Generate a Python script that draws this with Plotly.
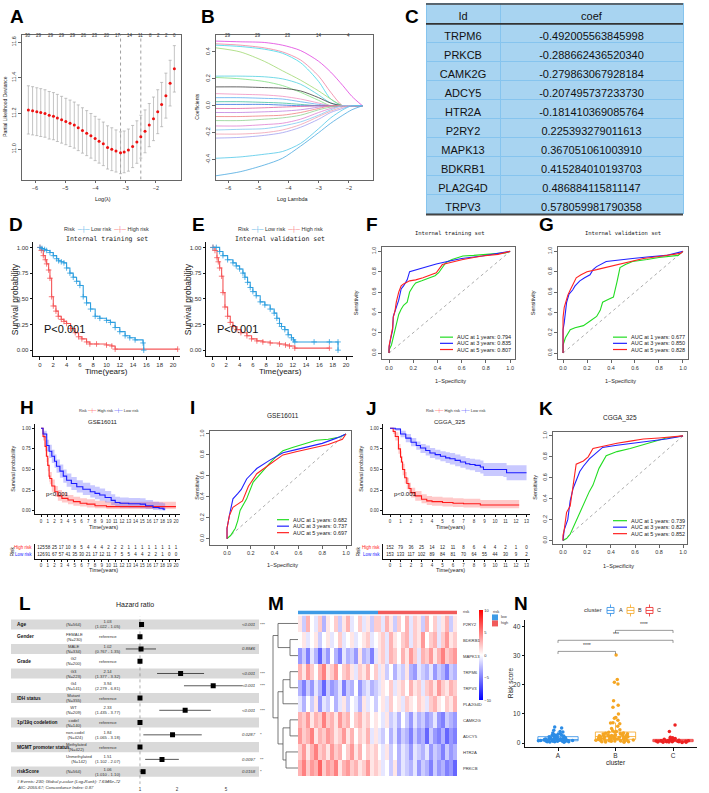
import plotly.graph_objects as go

W, H = 709, 793
SANS = "Liberation Sans, Arial, sans-serif"
MONO = "DejaVu Sans Mono, monospace"

# ================= DATA =================
# A: LASSO cross-validation
A_loglam = [-6.22,-6.08,-5.94,-5.81,-5.67,-5.53,-5.39,-5.26,-5.12,-4.98,-4.84,-4.70,-4.57,-4.43,-4.29,-4.15,-4.01,-3.88,-3.74,-3.60,
            -3.46,-3.32,-3.17,-3.05,-2.91,-2.77,-2.63,-2.50,-2.36,-2.22,-2.08,-1.94,-1.81,-1.67,-1.53,-1.39]
A_dev = [11.22,11.215,11.21,11.205,11.20,11.19,11.185,11.175,11.165,11.155,11.145,11.135,11.12,11.105,11.09,11.075,11.06,11.045,11.03,11.01,
         11.00,10.99,10.98,10.985,10.995,11.015,11.04,11.07,11.10,11.135,11.17,11.21,11.25,11.30,11.37,11.45]
A_sd = [0.135,0.135,0.134,0.134,0.133,0.133,0.132,0.132,0.131,0.130,0.130,0.129,0.128,0.127,0.126,0.125,0.124,0.123,0.122,0.121,
        0.120,0.118,0.117,0.117,0.118,0.118,0.119,0.120,0.120,0.121,0.122,0.123,0.124,0.126,0.128,0.130]
A_top_pos = [-6.22,-5.86,-5.48,-5.12,-4.75,-4.38,-4.01,-3.63,-3.24,-2.85,-2.50,-2.19,-1.92,-1.64,-1.39]
A_top_lab = ["30","29","29","29","29","26","23","20","17","14","11","8","2","2","0"]
A_lam_lines = [-3.17, -2.50]

# B: coefficient paths
B_grid = [-6.4,-5.6,-4.8,-4.2,-3.6,-3.0,-2.6,-2.2,-1.9,-1.55]
B_colors = ["#e040e0","#f080a0","#40d8e8","#a0d870","#50d0e0","#80e080","#404040","#f090c0","#60b0f0","#40c0a0",
            "#3070e0","#e060a0","#c080e0","#f08080","#90d090","#e080d0","#80c8f0","#f0a0b0","#a0a0f0","#50c8e8","#4aa8e0"]
B_paths = [
    [0.48,0.475,0.47,0.45,0.41,0.33,0.25,0.15,0.07,0.0],
    [0.46,0.45,0.43,0.40,0.34,0.22,0.10,0.0,0.0,0.0],
    [0.45,0.44,0.42,0.39,0.32,0.18,0.05,0.0,0.0,0.0],
    [0.43,0.40,0.33,0.26,0.19,0.11,0.05,0.0,0.0,0.0],
    [0.22,0.22,0.215,0.20,0.16,0.08,0.02,0.0,0.0,0.0],
    [0.21,0.20,0.18,0.15,0.10,0.04,0.0,0.0,0.0,0.0],
    [0.14,0.14,0.135,0.13,0.11,0.06,0.02,0.0,0.0,0.0],
    [0.09,0.085,0.08,0.07,0.05,0.02,0.0,0.0,0.0,0.0],
    [0.06,0.06,0.055,0.05,0.03,0.01,0.0,0.0,0.0,0.0],
    [0.03,0.03,0.025,0.02,0.01,0.0,0.0,0.0,0.0,0.0],
    [0.01,0.01,0.01,0.005,0.0,0.0,0.0,0.0,0.0,0.0],
    [-0.02,-0.02,-0.015,-0.01,-0.005,0.0,0.0,0.0,0.0,0.0],
    [-0.05,-0.05,-0.045,-0.04,-0.03,-0.01,0.0,0.0,0.0,0.0],
    [-0.08,-0.08,-0.075,-0.07,-0.05,-0.02,0.0,0.0,0.0,0.0],
    [-0.11,-0.11,-0.10,-0.09,-0.07,-0.03,-0.01,0.0,0.0,0.0],
    [-0.15,-0.15,-0.14,-0.13,-0.10,-0.05,-0.02,0.0,0.0,0.0],
    [-0.18,-0.175,-0.17,-0.15,-0.12,-0.07,-0.03,0.0,0.0,0.0],
    [-0.21,-0.21,-0.20,-0.18,-0.14,-0.08,-0.04,-0.01,0.0,0.0],
    [-0.24,-0.235,-0.22,-0.20,-0.16,-0.10,-0.05,-0.02,0.0,0.0],
    [-0.39,-0.38,-0.36,-0.34,-0.28,-0.17,-0.09,-0.03,0.0,0.0],
    [-0.52,-0.49,-0.44,-0.39,-0.30,-0.20,-0.13,-0.07,-0.03,0.0],
]
B_top_pos = [-6, -5, -4, -3, -2]
B_top_lab = ["29", "29", "23", "14", "4"]

# C: coefficient table
C_ids = ["TRPM6","PRKCB","CAMK2G","ADCY5","HTR2A","P2RY2","MAPK13","BDKRB1","PLA2G4D","TRPV3"]
C_coef = [-0.492005563845998,-0.288662436520340,-0.279863067928184,-0.207495737233730,-0.181410369085764,
          0.225393279011613,0.367051061003910,0.415284010193703,0.486884115811147,0.578059981790358]

# D / E: KM internal sets
D_low_t = [0,0.3,0.7,1.0,1.5,2.0,2.5,2.8,3.2,3.6,4.0,4.5,5.0,5.5,6.0,6.5,7.0,7.6,8.3,9.0,10.0,10.6,11.3,12.0,12.8,13.5,14.3,15.5,15.6]
D_low_s = [1,0.99,0.98,0.97,0.95,0.92,0.89,0.87,0.86,0.85,0.80,0.75,0.71,0.67,0.63,0.52,0.46,0.40,0.33,0.31,0.29,0.27,0.22,0.18,0.14,0.12,0.10,0.07,0.0]
D_high_t = [0,0.2,0.5,0.8,1.0,1.3,1.5,1.75,2.0,2.4,2.75,3.2,3.6,4.0,4.6,5.3,5.8,6.3,7.0,7.5,8.5,10.0,10.8,11.3,20.7]
D_high_s = [1,0.97,0.92,0.88,0.84,0.78,0.70,0.52,0.43,0.38,0.33,0.30,0.28,0.26,0.21,0.17,0.13,0.11,0.08,0.06,0.06,0.05,0.04,0.01,0.01]
E_low_t = [0,0.5,1.0,1.5,2.2,3.0,3.5,4.0,4.5,4.8,5.2,5.6,6.0,6.5,7.1,7.8,8.6,9.2,9.6,10.0,10.3,10.8,11.3,11.8,12.1,12.3,15.2,17.5,18.8,18.8]
E_low_s = [1,1,0.96,0.92,0.88,0.85,0.82,0.79,0.75,0.71,0.66,0.61,0.57,0.53,0.47,0.44,0.40,0.36,0.31,0.26,0.23,0.20,0.15,0.12,0.10,0.08,0.08,0.08,0.08,0.0]
E_high_t = [0,0.3,0.6,0.8,1.0,1.3,1.5,1.8,2.2,2.6,3.0,3.6,4.2,5.1,5.8,6.6,7.5,8.6,10.0,10.9,11.5,12.3,17.5]
E_high_s = [1,0.97,0.90,0.86,0.80,0.72,0.56,0.42,0.33,0.27,0.23,0.20,0.17,0.14,0.11,0.09,0.08,0.07,0.06,0.05,0.04,0.02,0.02]

# ROC data
AUC_years = [1, 3, 5]
F_auc = [0.794, 0.835, 0.807]
F_g_fpr = [0,0.0,0.02,0.04,0.05,0.07,0.08,0.10,0.12,0.15,0.17,0.20,0.22,0.27,0.33,0.38,0.41,0.44,0.47,0.52,0.61,0.70,0.80,0.90,0.96,1.0]
F_g_tpr = [0,0.03,0.08,0.18,0.23,0.33,0.38,0.43,0.47,0.50,0.60,0.66,0.69,0.71,0.74,0.76,0.79,0.84,0.89,0.92,0.955,0.96,0.97,0.98,0.985,1.0]
F_b_fpr = [0,0,0.01,0.02,0.03,0.035,0.05,0.06,0.08,0.09,0.10,0.12,0.15,0.17,0.20,0.23,0.30,0.39,0.50,0.60,0.77,0.90,1.0]
F_b_tpr = [0,0.05,0.12,0.20,0.23,0.36,0.43,0.45,0.52,0.58,0.63,0.66,0.72,0.80,0.81,0.82,0.85,0.875,0.905,0.93,0.955,0.98,1.0]
F_r_fpr = [0,0,0.01,0.02,0.03,0.035,0.05,0.06,0.08,0.10,0.12,0.17,0.22,0.28,0.33,0.39,0.44,0.50,0.61,0.70,0.77,0.90,1.0]
F_r_tpr = [0,0.07,0.13,0.20,0.25,0.35,0.42,0.50,0.60,0.66,0.68,0.71,0.72,0.74,0.76,0.79,0.87,0.89,0.92,0.94,0.955,0.97,1.0]
G_auc = [0.677, 0.850, 0.828]
G_g_fpr = [0,0,0.02,0.06,0.10,0.17,0.22,0.28,0.31,0.33,0.38,0.42,0.45,0.475,0.52,0.58,0.70,0.80,0.96,1.0]
G_g_tpr = [0,0.08,0.15,0.23,0.25,0.27,0.31,0.36,0.42,0.50,0.53,0.55,0.70,0.84,0.87,0.90,0.92,0.94,0.96,1.0]
G_b_fpr = [0,0,0.01,0.02,0.03,0.05,0.08,0.10,0.14,0.18,0.225,0.25,0.28,0.36,0.45,0.58,0.70,0.86,1.0]
G_b_tpr = [0,0.23,0.30,0.43,0.50,0.58,0.62,0.66,0.71,0.74,0.77,0.82,0.85,0.90,0.91,0.93,0.945,0.96,1.0]
G_r_fpr = [0,0,0.01,0.02,0.04,0.06,0.08,0.11,0.15,0.20,0.28,0.35,0.45,0.55,0.67,0.80,0.90,0.98,1.0]
G_r_tpr = [0,0.35,0.45,0.50,0.57,0.62,0.67,0.74,0.77,0.80,0.82,0.84,0.87,0.90,0.93,0.95,0.965,0.98,1.0]
I_auc = [0.682, 0.737, 0.697]
I_g_fpr = [0,0.03,0.07,0.09,0.11,0.165,0.22,0.28,0.35,0.41,0.47,0.55,0.64,0.75,0.85,0.95,1.0]
I_g_tpr = [0,0.03,0.10,0.17,0.27,0.38,0.54,0.62,0.71,0.78,0.84,0.87,0.90,0.94,0.95,0.97,1.0]
I_b_fpr = [0,0.0,0.025,0.05,0.09,0.12,0.165,0.25,0.36,0.47,0.58,0.70,0.80,0.92,1.0]
I_b_tpr = [0,0.10,0.25,0.38,0.43,0.47,0.57,0.67,0.75,0.82,0.85,0.88,0.91,0.96,1.0]
I_r_fpr = [0,0.0,0.02,0.05,0.09,0.13,0.18,0.25,0.36,0.47,0.58,0.70,0.85,0.97,1.0]
I_r_tpr = [0,0.10,0.22,0.30,0.33,0.36,0.50,0.62,0.71,0.80,0.83,0.86,0.90,0.95,1.0]
K_auc = [0.739, 0.827, 0.852]
K_g_fpr = [0,0.03,0.06,0.11,0.17,0.22,0.25,0.27,0.30,0.36,0.45,0.56,0.65,0.72,0.80,0.86,0.93,1.0]
K_g_tpr = [0,0.02,0.06,0.19,0.35,0.47,0.53,0.60,0.69,0.81,0.85,0.88,0.91,0.94,0.96,0.98,0.99,1.0]
K_b_fpr = [0,0.01,0.04,0.06,0.085,0.11,0.14,0.17,0.22,0.28,0.33,0.45,0.58,0.72,0.86,1.0]
K_b_tpr = [0,0.10,0.20,0.38,0.50,0.58,0.66,0.71,0.78,0.84,0.89,0.91,0.93,0.95,0.97,1.0]
K_r_fpr = [0,0.0,0.01,0.03,0.06,0.085,0.11,0.17,0.21,0.25,0.33,0.45,0.56,0.67,0.80,0.90,1.0]
K_r_tpr = [0,0.05,0.10,0.27,0.33,0.52,0.73,0.76,0.80,0.88,0.90,0.93,0.95,0.97,0.98,0.99,1.0]

# H: GSE16011 KM
H_high_t = [0,0.3,0.6,0.8,1.0,1.2,1.3,1.6,2.05,2.5,3.1,4.0,4.8,5.8,6.8,8.0,9.7,20]
H_high_s = [1,0.90,0.78,0.66,0.55,0.42,0.39,0.30,0.23,0.18,0.15,0.13,0.11,0.09,0.08,0.06,0.05,0.05]
H_high_lo = [1,0.85,0.72,0.59,0.48,0.35,0.32,0.23,0.17,0.12,0.10,0.08,0.06,0.05,0.04,0.03,0.02,0.02]
H_high_hi = [1,0.95,0.85,0.74,0.64,0.50,0.47,0.38,0.30,0.25,0.22,0.19,0.17,0.15,0.14,0.12,0.11,0.11]
H_low_t = [0,0.3,0.85,1.2,1.6,2.0,2.3,2.8,3.3,3.8,4.5,5.3,6.2,7.3,8.0,8.7,9.5,10.4,11.0,11.7,13.0,14.7,15.5,16.6,17.5,18.1,18.4]
H_low_s = [1,0.93,0.79,0.72,0.66,0.60,0.54,0.48,0.42,0.37,0.33,0.29,0.26,0.23,0.21,0.19,0.16,0.125,0.10,0.09,0.085,0.08,0.06,0.04,0.03,0.02,0.02]
H_low_lo = [1,0.88,0.72,0.64,0.58,0.52,0.46,0.40,0.34,0.29,0.25,0.22,0.19,0.16,0.14,0.12,0.10,0.07,0.05,0.04,0.035,0.03,0.02,0.01,0.005,0.0,0.0]
H_low_hi = [1,0.97,0.86,0.80,0.74,0.68,0.62,0.56,0.50,0.45,0.41,0.37,0.34,0.31,0.29,0.27,0.24,0.20,0.17,0.16,0.155,0.15,0.13,0.11,0.10,0.09,0.09]
H_tab_t = list(range(21))
H_tab_high = [125,58,25,17,10,8,5,4,4,4,2,2,2,1,1,1,1,1,1,1,1]
H_tab_low = [126,91,67,57,41,35,30,21,17,12,11,7,5,5,4,4,2,2,1,0,0]

# J: CGGA_325 KM
J_low_t = [0,0.5,1.0,1.5,2.0,2.5,2.9,3.4,3.8,4.3,4.8,5.3,5.7,6.2,6.7,7.2,7.6,8.1,8.6,8.9,10.8,11.1,13.0]
J_low_s = [1,0.99,0.93,0.88,0.83,0.79,0.76,0.73,0.70,0.68,0.66,0.64,0.63,0.61,0.59,0.57,0.56,0.55,0.53,0.50,0.50,0.46,0.46]
J_low_lo = [1,0.97,0.89,0.83,0.78,0.74,0.70,0.67,0.64,0.62,0.60,0.58,0.56,0.54,0.52,0.50,0.49,0.47,0.45,0.42,0.41,0.37,0.37]
J_low_hi = [1,1.0,0.97,0.93,0.88,0.84,0.81,0.79,0.76,0.74,0.72,0.71,0.70,0.68,0.66,0.64,0.63,0.62,0.61,0.58,0.58,0.55,0.55]
J_high_t = [0,0.3,0.5,0.8,1.0,1.1,1.2,1.4,1.6,1.8,2.0,2.4,3.0,3.5,4.0,5.0,6.0,7.0,8.6,12.3]
J_high_s = [1,0.96,0.90,0.75,0.65,0.59,0.50,0.40,0.33,0.27,0.22,0.18,0.14,0.12,0.11,0.10,0.09,0.085,0.07,0.07]
J_high_lo = [1,0.93,0.85,0.69,0.58,0.52,0.43,0.33,0.26,0.21,0.16,0.12,0.09,0.07,0.06,0.05,0.045,0.04,0.03,0.03]
J_high_hi = [1,0.99,0.95,0.81,0.72,0.66,0.57,0.47,0.40,0.34,0.28,0.24,0.20,0.18,0.17,0.16,0.15,0.145,0.13,0.13]
J_tab_t = list(range(14))
J_tab_high = [152,79,36,25,14,12,11,8,6,4,4,2,1,0]
J_tab_low = [153,133,117,102,89,84,81,70,64,55,44,30,9,2]

# L: multivariate Cox forest
L_var = ["Age","Gender","","Grade","","","IDH status","","1p/19q codeletion","","MGMT promoter status","","riskScore"]
L_level = ["(N=564)","FEMALE<br>(N=230)","MALE<br>(N=334)","G2<br>(N=200)","G3<br>(N=223)","G4<br>(N=141)",
           "Mutant<br>(N=355)","WT<br>(N=209)","codel<br>(N=140)","non-codel<br>(N=424)","Methylated<br>(N=422)",
           "Unmethylated<br>(N=142)","(N=564)"]
L_hr = [1.03,1,1.02,1,2.14,3.94,1,2.33,1,1.84,1,1.51,1.06]
L_lo = [1.022,None,0.767,None,1.377,2.279,None,1.435,None,1.065,None,1.102,1.010]
L_hi = [1.05,None,1.35,None,3.32,6.81,None,3.77,None,3.18,None,2.07,1.10]
L_p = ["<0.001","","0.8846","","<0.001","<0.001","","<0.001","","0.0287","","0.0097","0.0158"]
L_star = ["***","","","","***","***","","***","","*","","**","*"]
L_foot = ["# Events: 230; Global p-value (Log-Rank): 7.6946e-72", "AIC: 2055.67; Concordance Index: 0.87"]

# M: heatmap
M_genes = ["P2RY2","BDKRB1","MAPK13","TRPM6","TRPV3","PLA2G4D","CAMK2G","ADCY5","HTR2A","PRKCB"]
M_vals = [
    [1,-2,3,0,-1,2,-3,1,0,2,-2,1,3,-1,0,2,-1,1,-2,2, 2,-1,3,1,-2,2,0,3,-1,2,1,-2,3,0,2,-1,1,3,-2,1],
    [0,1,-1,0,1,-2,0,1,-1,0,2,-1,0,1,-1,0,1,2,-1,0, 1,2,-1,3,1,0,2,3,-1,2,1,4,0,2,3,-1,2,4,1,2],
    [-4,-2,-5,-1,-3,-6,-2,-4,0,-3,-5,-1,-3,-2,-4,1,-3,-2,-5,-1, 1,2,-1,3,2,0,3,1,4,2,-1,3,2,4,1,3,5,2,3,4],
    [3,1,4,2,0,3,5,1,2,4,0,2,3,1,-1,2,1,3,0,2, -1,1,-2,0,-3,-1,-2,1,-3,-4,-1,-2,-3,-1,-4,-2,-3,-5,-2,-3],
    [-3,-5,-2,-4,-1,-3,-6,-2,-4,-3,-1,-5,-2,-3,0,-4,-2,-1,-3,-2, -1,1,0,2,-1,1,2,0,3,1,2,-1,2,3,1,4,2,1,3,2],
    [-1,-3,0,-2,1,-4,-1,-2,0,-3,-1,1,-2,0,-1,-3,1,-1,0,-2, 0,1,-1,2,0,1,-1,2,1,0,2,1,-1,2,3,1,0,2,1,3],
    [3,2,4,1,3,2,5,2,3,1,4,2,3,0,2,3,1,2,0,1, 0,-1,1,-2,-1,-3,0,-2,-4,-1,-3,-2,-4,-3,-1,-4,-5,-2,-3,-4],
    [4,2,3,5,1,3,2,4,3,1,2,4,1,3,0,2,1,3,-1,1, -1,-2,0,-3,-1,-4,-2,-3,-5,-2,-4,-3,-6,-2,-4,-5,-3,-6,-4,-5],
    [2,4,1,3,5,2,3,1,4,2,3,0,2,4,1,3,0,2,1,2, 0,-1,1,-2,0,-3,-1,-2,-4,-1,-2,-3,-1,-4,-2,-3,-5,-2,-4,-3],
    [3,5,2,4,3,6,2,4,3,5,1,3,4,2,3,1,2,4,1,2, 1,-1,0,-2,1,-3,-1,-2,-3,-1,-4,-2,-3,-5,-2,-4,-3,-5,-4,-6],
]
M_n_low, M_n_high = 20, 20
# dendrogram merges: (child a, child b, height); negative = earlier merge number
M_dend = [(1,2,0.32),(0,-1,0.80),(3,4,0.32),(-3,5,0.60),(6,7,0.32),(8,9,0.48),(-5,-6,0.60),(-4,-7,0.80),(-2,-8,1.0)]

# N: risk score by cluster
N_clusters = ["A","B","C"]
N_A = [0.3,0.4,0.5,0.5,0.6,0.6,0.7,0.7,0.8,0.8,0.8,0.9,0.9,0.9,1.0,1.0,1.0,1.1,1.1,1.2,1.2,1.3,1.3,1.4,1.5,1.6,1.7,1.8,1.9,2.0,
       2.1,2.2,2.4,2.6,2.8,3.0,3.2,3.5,3.8,4.0,4.4,5.2,5.5,0.6,0.7,0.9,1.0,1.1,1.4,1.6,2.3,2.7,0.5,0.8,1.2,1.5,1.9,2.9]
N_B = [0.3,0.4,0.5,0.6,0.7,0.8,0.9,1.0,1.1,1.2,1.3,1.4,1.5,1.6,1.7,1.8,1.9,2.0,2.1,2.2,2.3,2.4,2.5,2.6,2.7,2.8,2.9,3.0,3.1,3.2,
       3.8,4.0,4.6,5.0,5.8,6.6,7.0,7.8,8.8,10.0,12.3,13.0,14.5,20.2,20.8,21.8,30.2,
       0.5,0.8,1.1,1.4,1.7,2.0,2.3,2.6,0.6,1.0,1.5,2.1,2.8,3.5,0.9,1.6,2.4,3.3,6.9,8.5,1.2,1.8,3.7,
       1.0,1.3,2.2,2.5,0.7,1.9,3.4,4.2]
N_C = [0.2,0.3,0.3,0.4,0.4,0.5,0.5,0.5,0.6,0.6,0.6,0.7,0.7,0.8,0.8,0.9,0.9,1.0,1.1,1.2,1.3,1.4,1.5,1.6,1.8,2.0,0.4,0.6,0.8,4.0,6.2]
N_brackets = [(0,1,31.4,"****"),(0,2,35.2,"***"),(1,2,38.6,"****")]

# ================= BUILD =================
fig = go.Figure()
LAY = dict(width=W, height=H, margin=dict(l=0, r=0, t=0, b=0), paper_bgcolor="white",
           plot_bgcolor="rgba(0,0,0,0)", showlegend=False, boxmode="overlay",
           font=dict(family=SANS, size=6, color="#222"))
ann, shp = [], []

def R(i, k):
    return k if i == 1 else f"{k}{i}"

def axes(i, xpx, ypx, xk, yk):
    xa = dict(domain=[xpx[0]/W, xpx[1]/W], anchor=R(i, "y"), showgrid=False, zeroline=False, tickangle=0)
    xa.update(xk)
    ya = dict(domain=[1-ypx[1]/H, 1-ypx[0]/H], anchor=R(i, "x"), showgrid=False, zeroline=False)
    ya.update(yk)
    LAY["xaxis" if i == 1 else f"xaxis{i}"] = xa
    LAY["yaxis" if i == 1 else f"yaxis{i}"] = ya

def sc(i, **kw):
    fig.add_trace(go.Scatter(xaxis=R(i, "x"), yaxis=R(i, "y"), hoverinfo="skip", **kw))

def T(px, py, s, size=6, color="#222", xa="center", ya="middle", angle=0, fam=None):
    ann.append(dict(x=px/W, y=1-py/H, xref="paper", yref="paper", text=s, showarrow=False,
                    xanchor=xa, yanchor=ya, textangle=angle, borderpad=0,
                    font=dict(size=size, color=color, family=fam or SANS)))

def PL(x0, y0, x1, y1, color="#333", w=1, dash="solid"):
    shp.append(dict(type="line", xref="paper", yref="paper", x0=x0/W, y0=1-y0/H, x1=x1/W, y1=1-y1/H,
                    line=dict(color=color, width=w, dash=dash)))

def PR(x0, y0, x1, y1, fill="rgba(0,0,0,0)", line="rgba(0,0,0,0)", w=0):
    shp.append(dict(type="rect", xref="paper", yref="paper", x0=x0/W, y0=1-y1/H, x1=x1/W, y1=1-y0/H,
                    fillcolor=fill, line=dict(color=line, width=w)))

def rbox(size=5.5, **kw):
    d = dict(showline=True, mirror=True, linecolor="#666", linewidth=0.8, ticks="outside", ticklen=3,
             tickwidth=0.6, tickcolor="#666", tickfont=dict(size=size, color="#333"))
    d.update(kw)
    return d

def gg(size=6.5, **kw):
    d = dict(showline=True, linecolor="#111", linewidth=0.8, ticks="outside", ticklen=2.5,
             tickwidth=0.7, tickcolor="#111", tickfont=dict(size=size, color="#333"))
    d.update(kw)
    return d

# panel letters
for lab, px, py in [("A",17,15),("B",208,15),("C",412,15),("D",16,223),("E",198,223),("F",372,223),("G",546,223),
                    ("H",27,407),("I",192,407),("J",371,408),("K",546,408),("L",25,603),("M",276,603),("N",521,603)]:
    T(px, py, f"<b>{lab}</b>", size=19, color="#000")

# ---- A ----
axes(1, (22,181), (33,178),
     rbox(range=[-6.43,-1.17], tickvals=[-6,-5,-4,-3,-2]),
     rbox(range=[10.83,11.64], tickvals=[11.0,11.2,11.4,11.6], ticktext=["11.0","11.2","11.4","11.6"], tickangle=-90))
for v in A_lam_lines:
    sc(1, x=[v, v], y=[10.83, 11.64], mode="lines", line=dict(color="#777", width=0.7, dash="dot"))
sc(1, x=A_loglam, y=A_dev, mode="markers", marker=dict(color="#ee1111", size=3),
   error_y=dict(type="data", array=A_sd, color="#aaaaaa", thickness=0.7, width=1.5))
for p, l in zip(A_top_pos, A_top_lab):
    ann.append(dict(x=p, xref="x", y=1-29/H, yref="paper", text=l, showarrow=False,
                    font=dict(size=4.5, color="#333", family=SANS)))
T(5, 105, "Partial Likelihood Deviance", 5, angle=-90)
T(103, 197, "Log(λ)", 5.5)

# ---- B ----
axes(2, (216,373), (33,178),
     rbox(range=[-6.4,-1.2], tickvals=[-6,-5,-4,-3,-2]),
     rbox(range=[-0.548,0.526], tickvals=[-0.4,-0.2,0,0.2,0.4], ticktext=["-0.4","-0.2","0.0","0.2","0.4"], tickangle=-90))
for col, path in zip(B_colors, B_paths):
    sc(2, x=B_grid, y=path, mode="lines", line=dict(color=col, width=0.8, shape="spline", smoothing=0.8))
for p, l in zip(B_top_pos, B_top_lab):
    ann.append(dict(x=p, xref="x2", y=1-29/H, yref="paper", text=l, showarrow=False,
                    font=dict(size=4.5, color="#333", family=SANS)))
T(197, 105, "Coefficients", 5, angle=-90)
T(293, 197, "Log Lambda", 5.5)

# ---- C: table ----
TBL_FILL, TBL_LINE = "#a8d4f1", "#86c4ee"
fig.add_trace(go.Table(
    domain=dict(x=[426/W, 683/W], y=[1-213/H, 1-2/H]),
    columnwidth=[74, 183],
    header=dict(values=["Id", "coef"], fill_color=TBL_FILL, line_color=TBL_LINE, height=20, align="center",
                font=dict(size=11, color="#111", family=SANS)),
    cells=dict(values=[C_ids, [f"{v:.15f}" for v in C_coef]], fill_color=TBL_FILL, line_color=TBL_LINE,
               height=19, align="center", font=dict(size=11, color="#111", family=SANS))))
PL(426, 2, 683, 2, "#444", 1.5)
PL(426, 22, 683, 22, "#333", 1.8)
PL(426, 213, 683, 213, "#444", 2)

# ---- KM helpers ----
def km_line(i, t, s, col, w=1.1, marks=True):
    sc(i, x=t, y=s, mode="lines+markers" if marks else "lines", line=dict(color=col, width=w, shape="hv"),
       marker=dict(symbol="cross-thin", size=4, color=col, line=dict(width=0.8, color=col)))

def km_band(i, t, lo, hi, fill):
    sc(i, x=t, y=hi, mode="lines", line=dict(width=0, shape="hv", color=fill))
    sc(i, x=t, y=lo, mode="lines", line=dict(width=0, shape="hv", color=fill), fill="tonexty", fillcolor=fill)

KM_LOW, KM_HIGH = "#2E9FDF", "#F5585A"
yt4 = dict(tickvals=[0,0.25,0.5,0.75,1.0], ticktext=["0.00","0.25","0.50","0.75","1.00"])
for i, xpx, tl, hl, ttl, cx in [(3,(33,180),(D_low_t,D_low_s),(D_high_t,D_high_s),"Internal training set",107),
                                (4,(206,353),(E_low_t,E_low_s),(E_high_t,E_high_s),"Internal validation set",280)]:
    axes(i, xpx, (241,355), gg(6, range=[-1.05,21.05], tickvals=list(range(0,21,2))),
         gg(6, range=[-0.058,1.049], **yt4))
    km_line(i, hl[0], hl[1], KM_HIGH)
    km_line(i, tl[0], tl[1], KM_LOW)
    T(cx, 228, f"Risk  <span style='color:{KM_LOW}'>─┼─</span> Low risk  <span style='color:{KM_HIGH}'>─┼─</span> High risk", 5.5, "#333")
    T(cx, 238, ttl, 6.5, "#222", fam=MONO)
    T(xpx[0]+10, 328, "P<0.001", 11, "#111", xa="left")
    T(cx, 370, "Time(years)", 8)
    T(xpx[0]-18, 298, "Survival probability", 8.5, angle=-90)

# ---- ROC helper ----
ROC_G, ROC_B, ROC_R = "#22dd22", "#2222ff", "#ff2222"
def roc(i, xpx, ypx, xr, yr, curves, aucs, leg, title, tpos, sens, spec, tfam, tsize):
    axes(i, xpx, ypx,
         rbox(5.5, range=xr, tickvals=[0,0.2,0.4,0.6,0.8,1.0], ticktext=["0.0","0.2","0.4","0.6","0.8","1.0"]),
         rbox(5.5, range=yr, tickvals=[0,0.2,0.4,0.6,0.8,1.0], ticktext=["0.0","0.2","0.4","0.6","0.8","1.0"], tickangle=-90))
    sc(i, x=[0, 1], y=[0, 1], mode="lines", line=dict(color="#888", width=0.7, dash="dot"))
    for col, (fx_, ty_) in zip([ROC_G, ROC_B, ROC_R], curves):
        sc(i, x=fx_, y=ty_, mode="lines", line=dict(color=col, width=1.1))
    lx0, lx1, tx, ry0, dy = leg
    for k, (col, yrs, a) in enumerate(zip([ROC_G, ROC_B, ROC_R], AUC_years, aucs)):
        ry = ry0 + k*dy
        PL(lx0, ry, lx1, ry, col, 1.2)
        T(tx, ry, f"AUC at {yrs} years: {a:.3f}", 5.5, "#222", xa="left")
    T(tpos[0], tpos[1], title, tsize, "#222", fam=tfam)
    T(sens[0], sens[1], "Sensitivity", 5.5, angle=-90)
    T(spec[0], spec[1], "1−Specificity", 5.5)

roc(5, (382,515), (246,358), [-0.058,1.04], [-0.059,1.039],
    [(F_g_fpr,F_g_tpr),(F_b_fpr,F_b_tpr),(F_r_fpr,F_r_tpr)], F_auc, (440,453,456,336,6.2),
    "Internal training set", (450,232), (356,302), (450,380), MONO, 5.5)
roc(6, (558,688), (246,358), [-0.042,1.042], [-0.059,1.039],
    [(G_g_fpr,G_g_tpr),(G_b_fpr,G_b_tpr),(G_r_fpr,G_r_tpr)], G_auc, (613,627,630,336,6.2),
    "Internal validation set", (623,232), (533,302), (620,380), MONO, 5.5)
roc(9, (210,351), (430,544), [-0.143,1.042], [-0.057,1.029],
    [(I_g_fpr,I_g_tpr),(I_b_fpr,I_b_tpr),(I_r_fpr,I_r_tpr)], I_auc, (277,289,292,519,6.5),
    "GSE16011", (283,415), (197,487), (282,564), SANS, 6.5)
roc(12, (553,687), (431,543), [-0.083,1.033], [-0.029,1.038],
    [(K_g_fpr,K_g_tpr),(K_b_fpr,K_b_tpr),(K_r_fpr,K_r_tpr)], K_auc, (613,627,630,520,6.5),
    "CGGA_325", (620,417), (535,487), (618,565), SANS, 6.5)

# ---- H / J KM with CI + risk tables ----
KH, KL = "#ff1a1a", "#1a1aff"
BH, BL = "rgba(255,60,60,0.28)", "rgba(60,60,255,0.28)"
for i, it, xpx, xr, ticks, title, hx, hb, lw, tab, tlx in [
        (7, 8, (35,180), [-0.89,20.6], list(range(21)), "GSE16011", 108,
         (H_high_t,H_high_s,H_high_lo,H_high_hi), (H_low_t,H_low_s,H_low_lo,H_low_hi),
         (H_tab_t,H_tab_high,H_tab_low), 12),
        (10, 11, (383,530), [-0.667,13.33], list(range(14)), "CGGA_325", 455,
         (J_high_t,J_high_s,J_high_lo,J_high_hi), (J_low_t,J_low_s,J_low_lo,J_low_hi),
         (J_tab_t,J_tab_high,J_tab_low), 358)]:
    axes(i, xpx, (423,513), gg(4.5, range=xr, tickvals=ticks), gg(4.5, range=[-0.036,1.052], **yt4))
    km_band(i, hb[0], hb[2], hb[3], BH)
    km_band(i, lw[0], lw[2], lw[3], BL)
    km_line(i, hb[0], hb[1], KH, 1.1, marks=False)
    km_line(i, lw[0], lw[1], KL, 1.1, marks=False)
    T(hx, 410, f"Risk <span style='color:{KH}'>─┼─</span> High risk <span style='color:{KL}'>─┼─</span> Low risk", 4, "#333")
    T(hx - 5, 421, title, 6, "#222")
    T(xpx[0] + 10, 493, "p<0.001", 6, "#111", xa="left")
    T(hx - 5, 526, "Time(years)", 5.5)
    T(xpx[0] - 22, 468, "Survival probability", 5.5, angle=-90)
    axes(it, xpx, (543,558), gg(4.5, range=xr, tickvals=ticks), gg(4.5, range=[-0.57,1.57], ticks="", showticklabels=False))
    sc(it, x=tab[0], y=[1]*len(tab[0]), mode="text", text=[str(v) for v in tab[1]], textfont=dict(size=4.5, color="#222"))
    sc(it, x=tab[0], y=[0]*len(tab[0]), mode="text", text=[str(v) for v in tab[2]], textfont=dict(size=4.5, color="#222"))
    T(xpx[0] - 2, 547, "High risk", 4.5, KH, xa="right")
    T(xpx[0] - 2, 554, "Low risk", 4.5, KL, xa="right")
    T(tlx, 551, "Risk", 5, angle=-90)
    T(hx - 5, 569, "Time(years)", 5.5)

# ---- L forest ----
nrow = len(L_var)
axes(13, (11,259), (616,785),
     dict(type="log", range=[-1.049, 0.968], tickvals=[1,2,5], ticktext=["1","2","5"], ticks="",
          tickfont=dict(size=4.5, color="#333"), showline=False),
     dict(range=[13.09,-0.65], visible=False))
for r in range(0, nrow, 2):
    shp.append(dict(type="rect", xref="paper", yref="y13", x0=11/W, x1=259/W, y0=r-0.41, y1=r+0.41,
                    fillcolor="#d9d9d9", line=dict(width=0), layer="below"))
sc(13, x=[1, 1], y=[-0.9, 13.0], mode="lines", line=dict(color="#777", width=0.6, dash="dot"))
wx, wy = [], []
for r in range(nrow):
    if L_lo[r] is not None:
        wx += [L_lo[r], L_hi[r], None]
        wy += [r, r, None]
sc(13, x=wx, y=wy, mode="lines", line=dict(color="#111", width=0.7))
sc(13, x=L_hr, y=list(range(nrow)), mode="markers", marker=dict(symbol="square", size=5, color="#000"))
for r in range(nrow):
    py = 624 + 12.3*r
    if L_var[r]:
        T(16, py, f"<b>{L_var[r]}</b>", 4.8, "#111", xa="left")
    T(65, py, L_level[r], 4.2, "#333", xa="left")
    hrtxt = "reference" if L_lo[r] is None else f"{L_hr[r]:.2f}<br>({L_lo[r]:.3f} - {L_hi[r]:.2f})"
    T(108, py, hrtxt, 4.2, "#333")
    if L_p[r]:
        T(257, py, f"<i>{L_p[r]}</i>", 4.3, "#333", xa="right")
        if L_star[r]:
            T(259, py, L_star[r], 4.3, "#333", xa="left")
T(135, 604, "Hazard ratio", 7, "#222")
T(16, 781, f"<i>{L_foot[0]}</i>", 4.3, "#333", xa="left")
T(16, 787, f"<i>{L_foot[1]}</i>", 4.3, "#333", xa="left")

# ---- M heatmap ----
ncol = M_n_low + M_n_high
axes(14, (298,457), (615,776), dict(visible=False, range=[-0.5, ncol-0.5]), dict(visible=False, range=[len(M_genes)-0.5, -0.5]))
fig.add_trace(go.Heatmap(z=M_vals, x=list(range(ncol)), y=list(range(len(M_genes))), xaxis="x14", yaxis="y14",
                         zmin=-10, zmax=10, colorscale=[[0,"#0000ff"],[0.5,"#ffffff"],[1,"#ff0000"]], hoverinfo="skip",
                         colorbar=dict(x=479/W, xanchor="left", y=1-655/H, yanchor="middle", len=90/H, lenmode="fraction",
                                       thickness=4, thicknessmode="pixels", tickvals=[-10,-5,0,5,10], ticks="",
                                       tickfont=dict(size=4, color="#333"), outlinewidth=0, xpad=0, ypad=0)))
axes(15, (298,457), (610,614), dict(visible=False, range=[-0.5, ncol-0.5]), dict(visible=False, range=[-0.5,0.5]))
fig.add_trace(go.Heatmap(z=[[0]*M_n_low + [1]*M_n_high], xaxis="x15", yaxis="y15", zmin=0, zmax=1, showscale=False,
                         colorscale=[[0,"#3E9BE6"],[0.5,"#3E9BE6"],[0.5,"#F15A5A"],[1,"#F15A5A"]], hoverinfo="skip"))
for k, g in enumerate(M_genes):
    T(462, 624 + 16.1*k, g, 4.2, "#333", xa="left")
T(462, 611, "risk", 4, "#333", xa="left")
T(492, 611, "risk", 4, "#333", xa="left")
PR(492, 614, 498, 620, "#3E9BE6")
PR(492, 620, 498, 626, "#F15A5A")
T(500, 617, "low", 3.8, "#333", xa="left")
T(500, 623, "high", 3.8, "#333", xa="left")
# dendrogram
axes(16, (272,298), (615,776), dict(visible=False, range=[1.04, 0]), dict(visible=False, range=[len(M_genes)-0.5, -0.5]))
nodes = {}
dx, dy = [], []
for k, (a, b, h) in enumerate(M_dend, start=1):
    ha, ya = (0.0, float(a)) if a >= 0 else nodes[-a]
    hb, yb = (0.0, float(b)) if b >= 0 else nodes[-b]
    dx += [ha, h, h, hb, None]
    dy += [ya, ya, yb, yb, None]
    nodes[k] = (h, (ya + yb) / 2)
sc(16, x=dx, y=dy, mode="lines", line=dict(color="#555", width=0.8))

# ---- N ----
NCOL = ["#2b8ce6", "#f5a623", "#ee2222"]
axes(17, (525,697), (620,747),
     gg(6.5, range=[-0.574, 2.417], tickvals=[0,1,2], ticktext=N_clusters),
     gg(6.5, range=[-1.37, 42.0], tickvals=[0,10,20,30,40]))
for k, vals in enumerate([N_A, N_B, N_C]):
    fig.add_trace(go.Box(x=[k]*len(vals), y=vals, xaxis="x17", yaxis="y17", boxpoints="all", jitter=1.0, pointpos=0,
                         width=0.7, whiskerwidth=0, fillcolor="rgba(255,255,255,0)", line=dict(color=NCOL[k], width=0.8),
                         marker=dict(color=NCOL[k], size=3.5), hoverinfo="skip"))
for a, b, yv, lab in N_brackets:
    sc(17, x=[a, a, b, b], y=[yv-0.9, yv, yv, yv-0.9], mode="lines", line=dict(color="#555", width=0.6))
    ann.append(dict(x=(a+b)/2, y=yv+0.4, xref="x17", yref="y17", text=lab, showarrow=False, yanchor="bottom",
                    font=dict(size=5, color="#333", family=SANS)))
T(616, 762, "cluster", 6.5)
T(510, 683, "Risk score", 6.5, angle=-90)
T(583, 610, "cluster", 6, "#333", xa="left")
for k, (x0, tx) in enumerate([(607,621),(627,640),(646,659)]):
    PR(x0, 607, x0+7, 613, "rgba(0,0,0,0)", NCOL[k], 0.8)
    PL(x0, 610, x0+7, 610, NCOL[k], 0.8)
    PL(x0+3.5, 604, x0+3.5, 607, NCOL[k], 0.8)
    PL(x0+3.5, 613, x0+3.5, 616, NCOL[k], 0.8)
    T(tx, 610, N_clusters[k], 5.5, "#333")

LAY["annotations"] = ann
LAY["shapes"] = shp
fig.update_layout(**LAY)
fig.write_html("out.html")
